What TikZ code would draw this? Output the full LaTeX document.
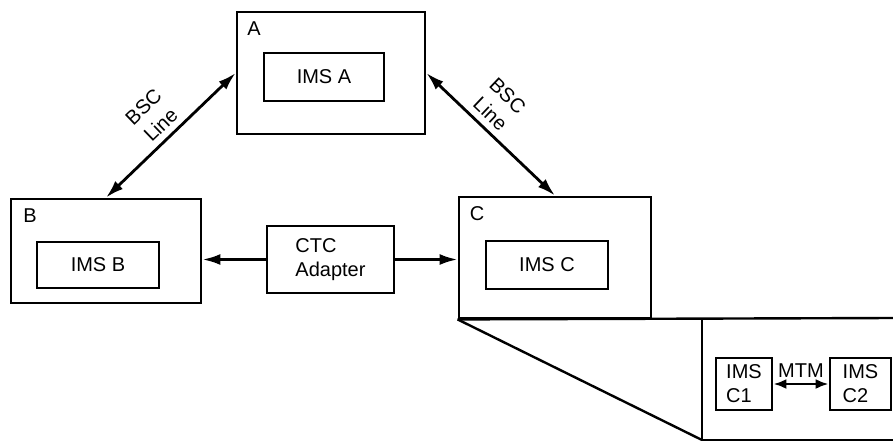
\documentclass[tikz,border=0pt]{standalone}
\usepackage{fontspec}
\setmainfont{Liberation Sans}
\usepackage{tikz}
\usetikzlibrary{arrows.meta, positioning, calc}
\definecolor{InkBlack}{HTML}{000000}
\definecolor{PaperWhite}{HTML}{ffffff}
\tikzset{
    % Node styles - plain boxes
    outerbox/.style={
        rectangle,
        draw=InkBlack,
        fill=PaperWhite,
        line width=2.8pt,
        inner sep=0pt
    },
    imsbox/.style={
        rectangle,
        draw=InkBlack,
        line width=2.8pt,
        inner sep=0pt,
        align=left,
        font=\fontsize{20}{24}\selectfont
    },
    tagtext/.style={
        inner sep=0pt,
        font=\fontsize{20}{25}\selectfont
    },
    % Arrow styles
    myarrow/.style={
        {Latex[length=18pt,width=11pt]}-{Latex[length=18pt,width=11pt]},
        line width=2.8pt,
        InkBlack
    },
    onearrow/.style={
        -{Latex[length=18pt,width=11pt]},
        line width=2.8pt,
        InkBlack
    },
    smallarrow/.style={
        {Latex[length=13pt,width=10pt]}-{Latex[length=13pt,width=10pt]},
        line width=2.8pt,
        InkBlack
    },
    zoomline/.style={
        draw=InkBlack,
        line width=2.4pt
    }
}
\begin{document}
\begin{tikzpicture}[x=1pt, y=-1pt]
    \useasboundingbox (0,0) rectangle (893,441);

    % systems
    \node[outerbox, minimum width=188pt, minimum height=122pt] (a) at (331,73) {};
    \node[tagtext] (atag) at (254,29) {A};
    \node[imsbox, minimum width=120pt, minimum height=48pt] (imsa) at (324,77) {IMS A};

    \node[outerbox, minimum width=190pt, minimum height=104pt] (b) at (106,251) {};
    \node[tagtext] (btag) at (30,216) {B};
    \node[imsbox, minimum width=122pt, minimum height=46pt] (imsb) at (98,265) {IMS B};

    \node[outerbox, minimum width=192pt, minimum height=121pt] (c) at (555,257.5) {};
    \node[tagtext] (ctag) at (477,214) {C};
    \node[imsbox, minimum width=122pt, minimum height=48pt] (imsc) at (547,265) {IMS C};

    \node[imsbox, minimum width=127pt, minimum height=67pt] (ctc) at (330.5,259.5) {CTC\\Adapter};

    % links
    \draw[myarrow] (b.north) -- node[sloped, above=6pt, align=center, tagtext]{BSC\\Line} (a.west);
    \draw[myarrow] (a.east) -- node[sloped, above=6pt, pos=0.42, align=center, tagtext]{BSC\\Line} (c.north);
    \draw[onearrow] (ctc.west) -- (ctc.west -| b.east);
    \draw[onearrow] (ctc.east) -- (ctc.east -| c.west);

    % blow-up of C
    \coordinate (zoomtr) at (893,318);
    \coordinate (zoomtl) at (702,318);
    \coordinate (zoombl) at (702,440);
    \coordinate (zoombr) at (893,440);
    \draw[zoomline] (c.south west) -- (zoomtr);
    \draw[zoomline] (c.south west) -- (zoombl);
    \draw[zoomline] (zoomtl) -- (zoombl) -- (zoombr);

    \node[imsbox, minimum width=56pt, minimum height=52pt] (c1) at (744,384) {IMS\\C1};
    \node[imsbox, minimum width=61pt, minimum height=52pt] (c2) at (860.5,384) {IMS\\C2};
    \draw[smallarrow] (c1.east) -- node[above=5pt, tagtext]{MTM} (c2.west);
\end{tikzpicture}
\end{document}
